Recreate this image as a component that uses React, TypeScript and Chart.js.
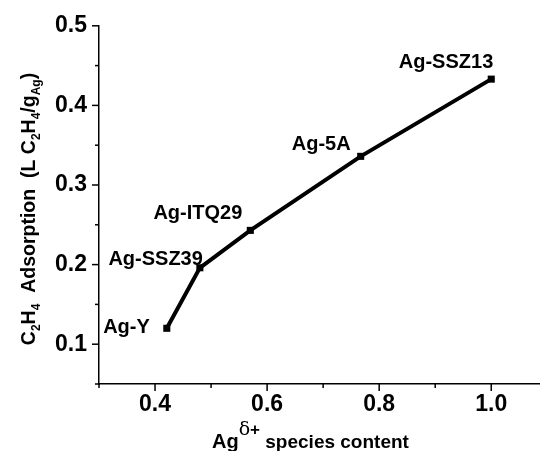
import React, { useEffect, useRef } from "react";
import { Chart, registerables } from "chart.js";

Chart.register(...registerables);

const sampleNames = ["Ag-Y", "Ag-SSZ39", "Ag-ITQ29", "Ag-5A", "Ag-SSZ13"];
const agContent = [0.421, 0.48, 0.57, 0.767, 1.0];
const adsorption = [0.12, 0.196, 0.243, 0.336, 0.433];

const xMajorTicks = [0.4, 0.6, 0.8, 1.0];
const xMinorTicks = [0.3, 0.5, 0.7, 0.9];
const yMajorTicks = [0.1, 0.2, 0.3, 0.4, 0.5];
const yMinorTicks = [0.05, 0.15, 0.25, 0.35, 0.45];

// label placement relative to each point (dx, dy from point pixel; right-aligned text)
const labelOffsets = [
  [-17, 5],
  [3, -3],
  [-8, -11],
  [-10, -6],
  [2, -11],
];

const FONT = '"Liberation Sans", Arial, Helvetica, sans-serif';

type Seg = { t: string; size: number; dy?: number; bold?: boolean; family?: string };

function segWidth(ctx: CanvasRenderingContext2D, s: Seg) {
  ctx.font = `${s.bold === false ? "" : "bold "}${s.size}px ${s.family || FONT}`;
  return ctx.measureText(s.t).width;
}

function drawRich(ctx: CanvasRenderingContext2D, segs: Seg[], x: number, y: number) {
  let cx = x;
  for (const s of segs) {
    ctx.font = `${s.bold === false ? "" : "bold "}${s.size}px ${s.family || FONT}`;
    ctx.fillText(s.t, cx, y + (s.dy || 0));
    cx += ctx.measureText(s.t).width;
  }
}

const decorPlugin = {
  id: "decor",
  afterDatasetsDraw(chart: any) {
    const ctx: CanvasRenderingContext2D = chart.ctx;
    const xs = chart.scales.x;
    const ys = chart.scales.y;
    const area = chart.chartArea;
    ctx.save();
    ctx.strokeStyle = "#000";
    ctx.fillStyle = "#000";
    ctx.lineWidth = 1.5;
    const drawX = (v: number, len: number) => {
      const p = xs.getPixelForValue(v);
      ctx.beginPath();
      ctx.moveTo(p, area.bottom);
      ctx.lineTo(p, area.bottom + len);
      ctx.stroke();
    };
    const drawY = (v: number, len: number) => {
      const p = ys.getPixelForValue(v);
      ctx.beginPath();
      ctx.moveTo(area.left, p);
      ctx.lineTo(area.left - len, p);
      ctx.stroke();
    };
    xMajorTicks.forEach((v) => drawX(v, 7));
    xMinorTicks.forEach((v) => drawX(v, 4));
    yMajorTicks.forEach((v) => drawY(v, 7));
    yMinorTicks.forEach((v) => drawY(v, 4));

    // point labels
    ctx.textAlign = "right";
    ctx.textBaseline = "alphabetic";
    ctx.font = `bold 20px ${FONT}`;
    const meta = chart.getDatasetMeta(0);
    meta.data.forEach((pt: any, i: number) => {
      const [dx, dy] = labelOffsets[i];
      ctx.fillText(sampleNames[i], pt.x + dx, pt.y + dy);
    });

    // x title
    ctx.textAlign = "left";
    const xSegs: Seg[] = [
      { t: "Ag", size: 20 },
      { t: "δ", size: 19, dy: -13, bold: false, family: '"DejaVu Serif", serif' },
      { t: "+", size: 17, dy: -13 },
      { t: " species content", size: 19 },
    ];
    drawRich(ctx, xSegs, 212, 448);

    // y title
    const ySegs: Seg[] = [
      { t: "C", size: 19.5 },
      { t: "2", size: 12, dy: 5 },
      { t: "H", size: 19.5 },
      { t: "4", size: 12, dy: 5 },
      { t: "  Adsorption  (L C", size: 19.5 },
      { t: "2", size: 12, dy: 5 },
      { t: "H", size: 19.5 },
      { t: "4", size: 12, dy: 5 },
      { t: "/g", size: 19.5 },
      { t: "Ag", size: 12, dy: 5 },
      { t: ")", size: 19.5 },
    ];
    const total = ySegs.reduce((a, s) => a + segWidth(ctx, s), 0);
    ctx.translate(35, 209);
    ctx.rotate(-Math.PI / 2);
    drawRich(ctx, ySegs, -total / 2, 0);
    ctx.restore();
  },
};

export default function App() {
  const ref = useRef<HTMLCanvasElement | null>(null);
  useEffect(() => {
    if (!ref.current) return;
    const chart = new Chart(ref.current, {
      type: "line",
      data: {
        datasets: [
          {
            data: agContent.map((x, i) => ({ x, y: adsorption[i] })),
            borderColor: "#000",
            backgroundColor: "#000",
            borderWidth: 4,
            pointStyle: "rect",
            pointRadius: 5,
            pointBorderWidth: 0,
            tension: 0,
            clip: false,
          },
        ],
      },
      options: {
        animation: false,
        responsive: false,
        devicePixelRatio: 1,
        layout: { autoPadding: false, padding: { top: 25, right: 0, left: 0, bottom: 0 } },
        plugins: { legend: { display: false }, tooltip: { enabled: false } },
        scales: {
          x: {
            type: "linear",
            min: 0.3,
            max: 1.087,
            afterBuildTicks: (s: any) => {
              s.ticks = xMajorTicks.map((v) => ({ value: v }));
            },
            afterFit: (s: any) => {
              s.height = 67;
              s.paddingRight = 0;
              s.paddingLeft = 0;
            },
            ticks: {
              color: "#000",
              font: { family: FONT, size: 23, weight: "bold" },
              padding: 7,
              callback: (v: any) => Number(v).toFixed(1),
              maxRotation: 0,
            },
            grid: { display: false, drawTicks: false },
            border: { display: true, color: "#000", width: 1.5 },
          },
          y: {
            type: "linear",
            min: 0.05,
            max: 0.5,
            afterBuildTicks: (s: any) => {
              s.ticks = yMajorTicks.map((v) => ({ value: v }));
            },
            afterFit: (s: any) => {
              s.width = 99;
            },
            ticks: {
              color: "#000",
              font: { family: FONT, size: 23, weight: "bold" },
              padding: 12,
              callback: (v: any) => Number(v).toFixed(1),
            },
            grid: { display: false, drawTicks: false },
            border: { display: true, color: "#000", width: 1.5 },
          },
        },
      },
      plugins: [decorPlugin],
    } as any);
    return () => chart.destroy();
  }, []);
  return (
    <div style={{ position: "absolute", left: 0, top: 0, width: 540, height: 451, background: "#fff" }}>
      <canvas ref={ref} width={540} height={451} style={{ display: "block" }} />
    </div>
  );
}
